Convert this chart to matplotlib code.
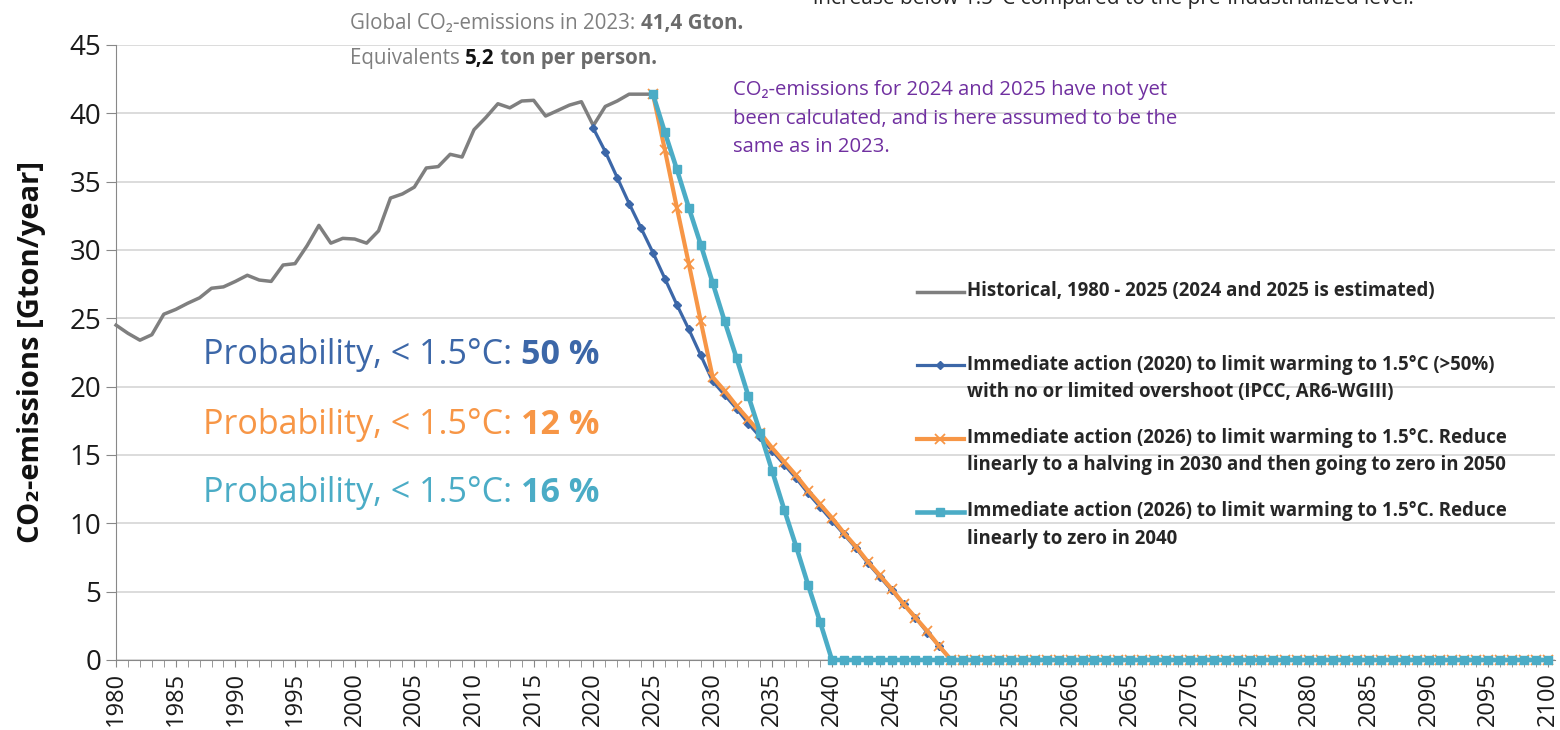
import numpy as np
import matplotlib.pyplot as plt
from matplotlib.ticker import MultipleLocator

# historical emissions, Gton/year
years_hist = list(range(1980, 2026))
hist = [24.5, 23.9, 23.4, 23.8, 25.3, 25.65, 26.1, 26.5, 27.2, 27.3,
        27.7, 28.15, 27.8, 27.7, 28.9, 29.0, 30.3, 31.8, 30.5, 30.85,
        30.8, 30.5, 31.4, 33.8, 34.1, 34.6, 36.0, 36.1, 37.0, 36.8,
        38.8, 39.7, 40.7, 40.4, 40.9, 40.95, 39.8, 40.2, 40.6, 40.85,
        39.1, 40.5, 40.9, 41.4, 41.4, 41.4]

# IPCC pathway from 2020
years_ipcc = list(range(2020, 2101))
ipcc = [38.9, 37.2, 35.3, 33.4, 31.6, 29.8, 27.9, 26.0, 24.2, 22.3,
        20.4, 19.4, 18.4, 17.3, 16.3, 15.3, 14.3, 13.3, 12.2, 11.2,
        10.2, 9.2, 8.2, 7.1, 6.1, 5.1, 4.1, 3.1, 2.0, 1.0,
        0.0, 0.0, 0.0, 0.0, 0.0, 0.0, 0.0, 0.0, 0.0, 0.0,
        0.0, 0.0, 0.0, 0.0, 0.0, 0.0, 0.0, 0.0, 0.0, 0.0,
        0.0, 0.0, 0.0, 0.0, 0.0, 0.0, 0.0, 0.0, 0.0, 0.0,
        0.0, 0.0, 0.0, 0.0, 0.0, 0.0, 0.0, 0.0, 0.0, 0.0,
        0.0, 0.0, 0.0, 0.0, 0.0, 0.0, 0.0, 0.0, 0.0, 0.0,
        0.0]

# halving in 2030, zero in 2050
years_half = list(range(2025, 2101))
half = [41.4, 37.3, 33.1, 29.0, 24.8,
        20.7, 19.7, 18.6, 17.6, 16.6, 15.5, 14.5, 13.5, 12.4, 11.4,
        10.4, 9.3, 8.3, 7.2, 6.2, 5.2, 4.1, 3.1, 2.1, 1.0,
        0.0, 0.0, 0.0, 0.0, 0.0, 0.0, 0.0, 0.0, 0.0, 0.0,
        0.0, 0.0, 0.0, 0.0, 0.0, 0.0, 0.0, 0.0, 0.0, 0.0,
        0.0, 0.0, 0.0, 0.0, 0.0, 0.0, 0.0, 0.0, 0.0, 0.0,
        0.0, 0.0, 0.0, 0.0, 0.0, 0.0, 0.0, 0.0, 0.0, 0.0,
        0.0, 0.0, 0.0, 0.0, 0.0, 0.0, 0.0, 0.0, 0.0, 0.0,
        0.0]

# zero in 2040
years_zero40 = list(range(2025, 2101))
zero40 = [41.4, 38.6, 35.9, 33.1, 30.4,
          27.6, 24.8, 22.1, 19.3, 16.6, 13.8, 11.0, 8.3, 5.5, 2.8,
          0.0, 0.0, 0.0, 0.0, 0.0, 0.0, 0.0, 0.0, 0.0, 0.0,
          0.0, 0.0, 0.0, 0.0, 0.0, 0.0, 0.0, 0.0, 0.0, 0.0,
          0.0, 0.0, 0.0, 0.0, 0.0, 0.0, 0.0, 0.0, 0.0, 0.0,
          0.0, 0.0, 0.0, 0.0, 0.0, 0.0, 0.0, 0.0, 0.0, 0.0,
          0.0, 0.0, 0.0, 0.0, 0.0, 0.0, 0.0, 0.0, 0.0, 0.0,
          0.0, 0.0, 0.0, 0.0, 0.0, 0.0, 0.0, 0.0, 0.0, 0.0,
          0.0]

labels = ["Historical, 1980 - 2025 (2024 and 2025 is estimated)\n ",
          "Immediate action (2020) to limit warming to 1.5°C (>50%)\nwith no or limited overshoot (IPCC, AR6-WGIII)",
          "Immediate action (2026) to limit warming to 1.5°C. Reduce\nlinearly to a halving in 2030 and then going to zero in 2050",
          "Immediate action (2026) to limit warming to 1.5°C. Reduce\nlinearly to zero in 2040"]
prob_values = ["50 %", "12 %", "16 %"]

GRAY = '#7F7F7F'
BLUE = '#3C67A8'
ORANGE = '#F79646'
CYAN = '#4BACC6'
FONT = ['Open Sans', 'DejaVu Sans']

plt.rcParams['font.family'] = FONT

fig = plt.figure(figsize=(15.6, 7.3), dpi=100)
ax = fig.add_axes([0.0744, 0.0959, 0.9224, 0.8425])

l1, = ax.plot(years_hist, hist, color=GRAY, lw=2.5, zorder=3, clip_on=False)
l2, = ax.plot(years_ipcc, ipcc, color=BLUE, lw=2.3, marker='D', ms=4.5, zorder=4, clip_on=False)
l3, = ax.plot(years_half, half, color=ORANGE, lw=3, marker='x', ms=7, mew=1.3, zorder=5, clip_on=False)
l4, = ax.plot(years_zero40, zero40, color=CYAN, lw=3.3, marker='s', ms=5.5, zorder=6, clip_on=False)

ax.set_xlim(1980, 2100.6)
ax.set_ylim(0, 45)
ax.xaxis.set_major_locator(MultipleLocator(5))
ax.xaxis.set_minor_locator(MultipleLocator(1))
ax.yaxis.set_major_locator(MultipleLocator(5))
ax.tick_params(axis='x', which='both', labelrotation=90, labelsize=17, length=5,
               color='#888888', labelcolor='#1a1a1a')
ax.tick_params(axis='y', labelsize=20, length=7, color='#888888', labelcolor='#1a1a1a')
ax.yaxis.grid(True, color='#D9D9D9', lw=1.3)
ax.set_axisbelow(True)
for s in ['top', 'right']:
    ax.spines[s].set_visible(False)
for s in ['left', 'bottom']:
    ax.spines[s].set_color('#888888')

ax.set_ylabel("CO₂-emissions [Gton/year]", fontsize=21, fontweight='bold', color='#111111')
ax.yaxis.set_label_coords(-0.049, 0.5)

leg = ax.legend([l1, l2, l3, l4], labels, loc='upper left', bbox_to_anchor=(0.5566, 0.616),
                frameon=False, borderpad=0, borderaxespad=0, handlelength=2.5,
                handletextpad=0.2, labelspacing=1.39,
                prop=dict(family=FONT, weight='bold', size=13.4))
for t in leg.get_texts():
    t.set_color('#262626')
    t.set_linespacing(1.5)

# probability annotations
prob_colors = [BLUE, ORANGE, CYAN]
prob_y = [22.3, 17.2, 12.2]
for val, c, y in zip(prob_values, prob_colors, prob_y):
    t = ax.text(1987.3, y, "Probability, < 1.5°C: ", color=c, fontsize=24.5, va='center')
    ax.annotate(val, xy=(1, 0), xycoords=t, va='bottom', ha='left', color=c,
                fontsize=24.5, fontweight='bold')

# top notes
t1 = fig.text(350 / 1560, 1 - 29 / 730, "Global CO₂-emissions in 2023: ", color=GRAY,
              fontsize=14.8, va='baseline')
ax.annotate("41,4 Gton.", xy=(1, 0), xycoords=t1, va='bottom', color='#6b6b6b',
            fontsize=14.8, fontweight='bold', annotation_clip=False)
t2 = fig.text(350 / 1560, 1 - 64 / 730, "Equivalents ", color=GRAY, fontsize=14.8, va='baseline')
a2 = ax.annotate("5,2", xy=(1, 0), xycoords=t2, va='bottom', color='#111111',
                 fontsize=14.8, fontweight='bold', annotation_clip=False)
ax.annotate(" ton per person.", xy=(1, 0), xycoords=a2, va='bottom', color='#6b6b6b',
            fontsize=14.8, fontweight='bold', annotation_clip=False)

fig.text(733 / 1560, 1 - 152 / 730,
         "CO₂-emissions for 2024 and 2025 have not yet\nbeen calculated, and is here assumed to be the\nsame as in 2023.",
         color='#7030A0', fontsize=14.6, va='baseline', linespacing=1.56)

fig.text(813 / 1560, 1 - 4 / 730, "increase below 1.5°C compared to the pre-industrialized level.",
         color='#262626', fontsize=15, va='baseline')

# align legend keys with the first line of each label
fig.canvas.draw()
r = fig.canvas.get_renderer()
tmp = fig.text(0, 0, "Hg", fontproperties=leg.get_texts()[0].get_fontproperties())
h1 = tmp.get_window_extent(r).height
tmp.remove()
for t, h in zip(leg.get_texts(), leg.legend_handles):
    shift = (t.get_window_extent(r).height - h1) / 2 * 72 / fig.dpi
    h.set_ydata(np.asarray(h.get_ydata()) + shift)

fig.savefig('out.png', dpi=100)
